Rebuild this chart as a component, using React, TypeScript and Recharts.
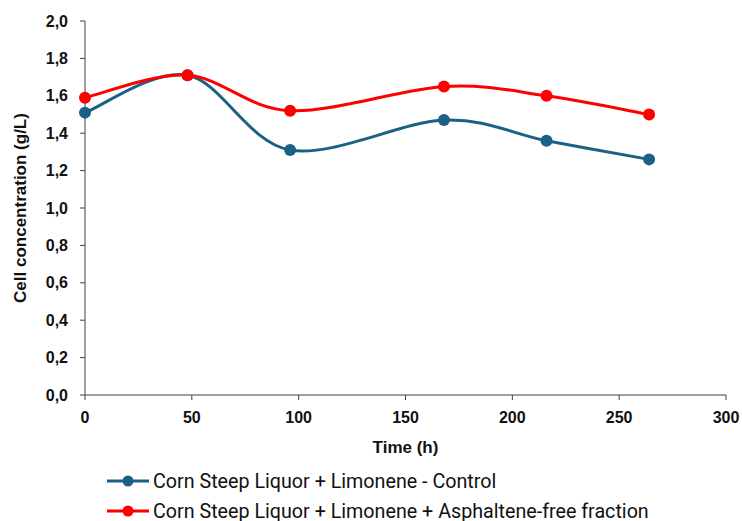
import { LineChart, Line, XAxis, YAxis, Legend } from 'recharts';

const times = [0, 48, 96, 168, 216, 264];
const controlValues = [1.51, 1.71, 1.31, 1.47, 1.36, 1.26];
const asphalteneValues = [1.59, 1.71, 1.52, 1.65, 1.6, 1.5];
const xTicks = [0, 50, 100, 150, 200, 250, 300];
const yTicks = [0, 0.2, 0.4, 0.6, 0.8, 1.0, 1.2, 1.4, 1.6, 1.8, 2.0];

const controlName = 'Corn Steep Liquor + Limonene - Control';
const asphalteneName = 'Corn Steep Liquor + Limonene + Asphaltene-free fraction';

const data = times.map((t, i) => ({
    time: t,
    control: controlValues[i],
    asphaltene: asphalteneValues[i],
}));

const BLUE = '#1b6186';
const RED = '#ff0000';
const AXIS = '#404040';
const tickFont = { fontFamily: 'Liberation Sans, Arial, sans-serif', fontWeight: 700, fontSize: 16, fill: '#111' };

// Excel-like smoothed line (Catmull-Rom through the points)
const smoothCurve = (context: any) => {
    let pts: number[][] = [];
    return {
        areaStart() {},
        areaEnd() {},
        lineStart() {
            pts = [];
        },
        point(x: number, y: number) {
            pts.push([+x, +y]);
        },
        lineEnd() {
            const n = pts.length;
            if (!n) return;
            context.moveTo(pts[0][0], pts[0][1]);
            for (let i = 0; i < n - 1; i++) {
                const p0 = pts[Math.max(i - 1, 0)];
                const p1 = pts[i];
                const p2 = pts[i + 1];
                const p3 = pts[Math.min(i + 2, n - 1)];
                context.bezierCurveTo(
                    p1[0] + (p2[0] - p0[0]) / 6,
                    p1[1] + (p2[1] - p0[1]) / 6,
                    p2[0] - (p3[0] - p1[0]) / 6,
                    p2[1] - (p3[1] - p1[1]) / 6,
                    p2[0],
                    p2[1]
                );
            }
        },
    };
};

const LegendContent = () => {
    const rows = [
        { name: controlName, color: BLUE },
        { name: asphalteneName, color: RED },
    ];
    return (
        <div>
            {rows.map((r) => (
                <div key={r.name} style={{ display: 'flex', alignItems: 'center', height: 30 }}>
                    <svg width={46} height={14} style={{ marginRight: 2 }}>
                        <line x1={2} y1={7} x2={44} y2={7} stroke={r.color} strokeWidth={3} />
                        <circle cx={23} cy={7} r={5.5} fill={r.color} />
                    </svg>
                    <span style={{ fontFamily: 'Roboto, sans-serif', fontSize: 19.7, color: '#111' }}>{r.name}</span>
                </div>
            ))}
        </div>
    );
};

export default function App() {
    return (
        <div style={{ position: 'absolute', left: 0, top: 0 }}>
            <LineChart width={742} height={521} data={data} margin={{ top: 21, right: 16, left: 0, bottom: 66 }}>
                <XAxis
                    dataKey="time"
                    type="number"
                    domain={[0, 300]}
                    ticks={xTicks}
                    height={60}
                    stroke={AXIS}
                    tickSize={5}
                    tickMargin={12}
                    tick={tickFont}
                    label={(props: any) => {
                        const vb = props.viewBox;
                        return (
                            <text
                                x={vb.x + vb.width / 2}
                                y={453}
                                textAnchor="middle"
                                style={{ fontFamily: 'Liberation Sans, Arial, sans-serif', fontWeight: 700, fontSize: 17, fill: '#111' }}
                            >
                                Time (h)
                            </text>
                        );
                    }}
                />
                <YAxis
                    type="number"
                    domain={[0, 2]}
                    ticks={yTicks}
                    width={85}
                    stroke={AXIS}
                    tickSize={5}
                    tickMargin={12}
                    tick={tickFont}
                    tickFormatter={(v: number) => v.toFixed(1).replace('.', ',')}
                    label={(props: any) => {
                        const vb = props.viewBox;
                        const cy = vb.y + vb.height / 2;
                        return (
                            <text
                                x={26}
                                y={cy}
                                textAnchor="middle"
                                transform={`rotate(-90 26 ${cy})`}
                                style={{ fontFamily: 'Liberation Sans, Arial, sans-serif', fontWeight: 700, fontSize: 17, fill: '#111' }}
                            >
                                Cell concentration (g/L)
                            </text>
                        );
                    }}
                />
                <Legend
                    layout="vertical"
                    align="center"
                    verticalAlign="middle"
                    content={<LegendContent />}
                    wrapperStyle={{ left: 105, top: 466, width: 620 }}
                />
                <Line
                    type={smoothCurve as any}
                    dataKey="control"
                    name={controlName}
                    stroke={BLUE}
                    strokeWidth={3}
                    dot={{ r: 6, fill: BLUE, stroke: BLUE, strokeWidth: 0 }}
                    isAnimationActive={false}
                />
                <Line
                    type={smoothCurve as any}
                    dataKey="asphaltene"
                    name={asphalteneName}
                    stroke={RED}
                    strokeWidth={3}
                    dot={{ r: 6, fill: RED, stroke: RED, strokeWidth: 0 }}
                    isAnimationActive={false}
                />
            </LineChart>
        </div>
    );
}
